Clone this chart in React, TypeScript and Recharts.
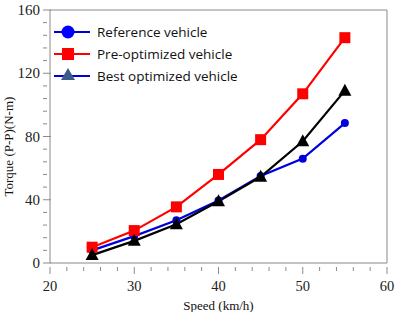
import { LineChart, Line, XAxis, YAxis, ReferenceLine } from 'recharts';

const speeds = [25, 30, 35, 40, 45, 50, 55];
const referenceTorque = [8, 17, 27, 39.5, 55, 66, 88.5];
const preOptimizedTorque = [10, 20.5, 35.5, 56, 78, 107, 142.5];
const bestOptimizedTorque = [5, 14, 24.5, 39, 54.5, 77, 109];

const xTicks = [20, 22, 24, 26, 28, 30, 32, 34, 36, 38, 40, 42, 44, 46, 48, 50, 52, 54, 56, 58, 60];
const yTicks = [0, 8, 16, 24, 32, 40, 48, 56, 64, 72, 80, 88, 96, 104, 112, 120, 128, 136, 144, 152, 160];

const data = speeds.map((s, i) => ({
  speed: s,
  reference: referenceTorque[i],
  pre: preOptimizedTorque[i],
  best: bestOptimizedTorque[i],
}));

const serif = '"Liberation Serif", "Times New Roman", serif';
const sans = '"Open Sans", "DejaVu Sans", sans-serif';
const axisColor = '#8a8a8a';

// major ticks get a label, minor ones only a short mark
const XTick = (props: any) => {
  const { x, y, payload } = props;
  const major = payload.value % 10 === 0;
  return (
    <g>
      <line x1={x} x2={x} y1={y - 4} y2={y + (major ? 3 : 0)} stroke={axisColor} strokeWidth={1} />
      {major && (
        <text x={x} y={y + 20} textAnchor="middle" fontFamily={serif} fontSize={14.5} fill="#222">
          {payload.value}
        </text>
      )}
    </g>
  );
};

const YTick = (props: any) => {
  const { x, y, payload } = props;
  const major = payload.value % 40 === 0;
  return (
    <g>
      <line x1={x + 1} x2={x + (major ? 9 : 5)} y1={y} y2={y} stroke={axisColor} strokeWidth={1} />
      {major && (
        <text x={x - 2} y={y + 5} textAnchor="end" fontFamily={serif} fontSize={15} fill="#222">
          {payload.value}
        </text>
      )}
    </g>
  );
};

const Square = (props: any) => {
  const { cx, cy } = props;
  return <rect x={cx - 5.5} y={cy - 5.5} width={11} height={11} fill="#ff0000" />;
};

const Triangle = (props: any) => {
  const { cx, cy } = props;
  return <path d={`M${cx},${cy - 7} L${cx + 6.5},${cy + 5} L${cx - 6.5},${cy + 5} Z`} fill="#000" />;
};

const Circle = (props: any) => {
  const { cx, cy } = props;
  return <circle cx={cx} cy={cy} r={4} fill="#0000dd" />;
};

const legendItems = [
  { label: 'Reference vehicle', color: '#0000dd', marker: 'circle' },
  { label: 'Pre-optimized vehicle', color: '#ff0000', marker: 'square' },
  { label: 'Best optimized vehicle', color: '#0000dd', marker: 'triangle' },
];

const LegendBox = () => (
  <svg width={250} height={70}>
    {legendItems.map((item, i) => {
      const cy = 10 + i * 22;
      return (
        <g key={item.label}>
          <line x1={0} x2={36} y1={cy} y2={cy} stroke={item.color} strokeWidth={2} />
          {item.marker === 'circle' && <circle cx={14} cy={cy} r={6.5} fill="#0000ff" />}
          {item.marker === 'square' && <rect x={8} y={cy - 6} width={12} height={12} fill="#ff0000" />}
          {item.marker === 'triangle' && (
            <path d={`M14,${cy - 8} L21,${cy + 4} L7,${cy + 4} Z`} fill="#3b5b8c" />
          )}
          <text x={43} y={cy + 5} fontFamily={sans} fontSize={13.5} fill="#111">
            {item.label}
          </text>
        </g>
      );
    })}
  </svg>
);

export default function App() {
  return (
    <div style={{ position: 'absolute', left: 0, top: 0, width: 395, height: 312, background: '#fff' }}>
      <LineChart width={395} height={312} data={data} margin={{ top: 10, right: 8, bottom: 2, left: 4 }}>
        <XAxis
          dataKey="speed"
          type="number"
          domain={[20, 60]}
          ticks={xTicks}
          interval={0}
          stroke={axisColor}
          tickLine={false}
          tick={<XTick />}
          height={47}
          label={{ value: 'Speed (km/h)', position: 'insideBottom', offset: 0, fontFamily: serif, fontSize: 13, fill: '#111' }}
        />
        <YAxis
          type="number"
          domain={[0, 160]}
          ticks={yTicks}
          interval={0}
          stroke={axisColor}
          tickLine={false}
          tick={<YTick />}
          width={46}
          label={{ value: 'Torque  (P-P)(N-m)', angle: -90, position: 'insideLeft', offset: 4, dy: 60, fontFamily: serif, fontSize: 13, fill: '#111' }}
        />
        <ReferenceLine y={160} stroke={axisColor} />
        <ReferenceLine x={60} stroke={axisColor} />
        <Line
          dataKey="reference"
          stroke="#0000dd"
          strokeWidth={2.2}
          dot={<Circle />}
          isAnimationActive={false}
        />
        <Line dataKey="pre" stroke="#ff0000" strokeWidth={2.2} dot={<Square />} isAnimationActive={false} />
        <Line dataKey="best" stroke="#000" strokeWidth={2.2} dot={<Triangle />} isAnimationActive={false} />
      </LineChart>
      <div style={{ position: 'absolute', left: 54, top: 22 }}>
        <LegendBox />
      </div>
    </div>
  );
}
